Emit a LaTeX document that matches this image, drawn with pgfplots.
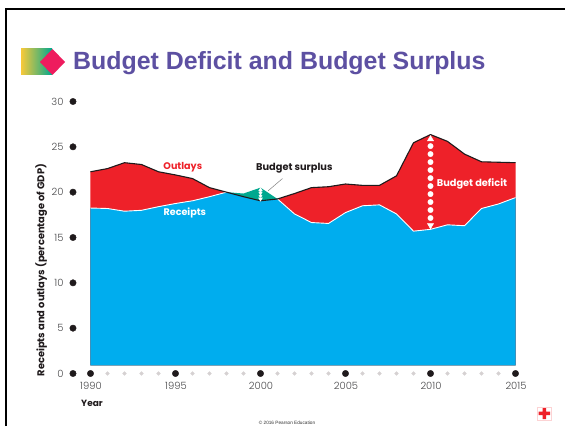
\documentclass[border=0pt]{standalone}
\usepackage{fontspec}
\usepackage{pgfplots}
\pgfplotsset{compat=1.18}
\setmainfont{Poppins}
\newfontfamily\titlefont{Liberation Sans}
\newfontfamily\lightfont{Poppins Light}
\definecolor{outlayred}{HTML}{EE2129}
\definecolor{receiptblue}{HTML}{00ADEE}
\definecolor{surplusteal}{HTML}{00A88F}
\definecolor{titlepurple}{HTML}{5D50A2}
\definecolor{dotblack}{HTML}{1F1A1C}
\definecolor{dotgrey}{HTML}{D6D1D2}
\definecolor{ticktext}{HTML}{4A4A4C}
\definecolor{logopink}{HTML}{EE1C5E}
\definecolor{logoyellow}{HTML}{F8C93A}

\begin{document}
\begin{tikzpicture}[x=1pt,y=1pt]
\useasboundingbox (0,0) rectangle (565,426);
\fill[white] (0,0) rectangle (565,426);
% slide frame
\draw[black,line width=2pt] (6,0) -- (6,417) -- (565,417);
% title block
\shade[left color=logoyellow,right color=surplusteal] (21,351) rectangle (52,377);
\fill[logopink] (40,364) -- (52.5,377) -- (65,364) -- (52.5,351) -- cycle;
\node[anchor=west,inner sep=0pt,text=titlepurple,font=\titlefont\bfseries\fontsize{24.9}{30}\selectfont] at (73,363) {Budget Deficit and Budget Surplus};
% footer
\node[inner sep=0pt,font=\titlefont\fontsize{4.7}{5}\selectfont,text=black!80] at (287,3) {© 2016 Pearson Education};
\draw[outlayred!20,line width=0.4pt] (537.5,5.5) rectangle (550.7,18.7);
\fill[outlayred] (542.5,18) -- (546,18) -- (546,14.5) -- (550,14.5) -- (550,11) -- (546,11) -- (546,7) -- (542.5,7) -- (542.5,11) -- (538.5,11) -- (538.5,14.5) -- (542.5,14.5) -- cycle;

\begin{axis}[
  at={(90.5pt,52.5pt)}, anchor=south west,
  scale only axis, width=425pt, height=272pt,
  xmin=1990, xmax=2015, ymin=0, ymax=30,
  clip=false,
  axis line style={draw=none},
  tick style={draw=none},
  xtick={1990,1995,2000,2005,2010,2015},
  ytick={0,5,10,15,20,25,30},
  /pgf/number format/assume math mode=true,
  /pgf/number format/1000 sep={},
  tick label style={font=\lightfont\fontsize{10}{11}\selectfont,text=ticktext},
  xticklabel style={yshift=-5.5pt,xshift=0.5pt},
  yticklabel style={xshift=-23.5pt},
  xlabel={Year},
  ylabel={Receipts and outlays (percentage of GDP)},
  xlabel style={font=\bfseries\fontsize{9}{10}\selectfont,text=dotblack,at={(axis description cs:0.0035,-0.108)},anchor=center},
  ylabel style={font=\bfseries\fontsize{9.9}{11}\selectfont,text=dotblack,at={(axis description cs:-0.116,0.38)},anchor=center},
]
% areas, back to front, standing on the same base: receipts, outlays, lower of the two
\addplot[draw=none,fill=surplusteal] coordinates {(1990,0.9)(1990,18.25)(1991,18.2)(1992,17.9)(1993,18.0)(1994,18.4)(1995,18.75)(1996,19.05)(1997,19.5)(1998,20.0)(1999,19.85)(2000,20.5)(2001,19.25)(2002,17.6)(2003,16.65)(2004,16.55)(2005,17.75)(2006,18.5)(2007,18.6)(2008,17.6)(2009,15.7)(2010,15.9)(2011,16.4)(2012,16.3)(2013,18.2)(2014,18.7)(2015,19.4)(2015,0.9)};
\addplot[draw=none,fill=outlayred] coordinates {(1990,0.9)(1990,22.25)(1991,22.6)(1992,23.25)(1993,23.05)(1994,22.25)(1995,21.9)(1996,21.5)(1997,20.5)(1998,20.0)(1999,19.5)(2000,19.05)(2001,19.25)(2002,19.85)(2003,20.5)(2004,20.6)(2005,20.9)(2006,20.75)(2007,20.75)(2008,21.8)(2009,25.45)(2010,26.35)(2011,25.6)(2012,24.2)(2013,23.35)(2014,23.3)(2015,23.25)(2015,0.9)};
\addplot[draw=none,fill=receiptblue] coordinates {(1990,0.9)(1990,18.25)(1991,18.2)(1992,17.9)(1993,18.0)(1994,18.4)(1995,18.75)(1996,19.05)(1997,19.5)(1998,20.0)(1999,19.5)(2000,19.05)(2001,19.25)(2002,17.6)(2003,16.65)(2004,16.55)(2005,17.75)(2006,18.5)(2007,18.6)(2008,17.6)(2009,15.7)(2010,15.9)(2011,16.4)(2012,16.3)(2013,18.2)(2014,18.7)(2015,19.4)(2015,0.9)};
% series edges
\addplot[white,line width=0.9pt,line join=round] coordinates {(1990,18.25)(1991,18.2)(1992,17.9)(1993,18.0)(1994,18.4)(1995,18.75)(1996,19.05)(1997,19.5)(1998,20.0)};
\addplot[white,line width=0.9pt,line join=round] coordinates {(2001,19.25)(2002,17.6)(2003,16.65)(2004,16.55)(2005,17.75)(2006,18.5)(2007,18.6)(2008,17.6)(2009,15.7)(2010,15.9)(2011,16.4)(2012,16.3)(2013,18.2)(2014,18.7)(2015,19.4)};
\addplot[dotblack,line width=1.1pt,line join=round] coordinates {(1990,22.25)(1991,22.6)(1992,23.25)(1993,23.05)(1994,22.25)(1995,21.9)(1996,21.5)(1997,20.5)(1998,20.0)(1999,19.5)(2000,19.05)(2001,19.25)(2002,19.85)(2003,20.5)(2004,20.6)(2005,20.9)(2006,20.75)(2007,20.75)(2008,21.8)(2009,25.45)(2010,26.35)(2011,25.6)(2012,24.2)(2013,23.35)(2014,23.3)(2015,23.25)};
% axis dots
\addplot[only marks,mark=*,mark size=1.9pt,color=dotgrey] coordinates {(1991,0)(1992,0)(1993,0)(1994,0)(1996,0)(1997,0)(1998,0)(1999,0)(2001,0)(2002,0)(2003,0)(2004,0)(2006,0)(2007,0)(2008,0)(2009,0)(2011,0)(2012,0)(2013,0)(2014,0)};
\addplot[only marks,mark=*,mark size=3.2pt,color=dotblack] coordinates {(1990,0)(1995,0)(2000,0)(2005,0)(2010,0)(2015,0)};
\addplot[only marks,mark=*,mark size=3.2pt,color=dotblack] coordinates {(1988.97,0)(1988.97,5)(1988.97,10)(1988.97,15)(1988.97,20)(1988.97,25)(1988.97,30)};
% deficit span in 2010
\addplot[only marks,mark=*,mark size=2.7pt,color=white] coordinates {(2010,25.08)(2010,24.2)(2010,23.32)(2010,22.44)(2010,21.55)(2010,20.67)(2010,19.79)(2010,18.91)(2010,18.03)(2010,17.15)};
\addplot[only marks,mark=triangle*,mark size=3.6pt,color=white] coordinates {(2010,25.85)};
\addplot[only marks,mark=triangle*,mark size=3.6pt,color=white,mark options={rotate=180}] coordinates {(2010,16.35)};
% surplus span in 2000
\addplot[only marks,mark=*,mark size=1.6pt,color=white] coordinates {(2000,19.95)(2000,19.6)};
\addplot[only marks,mark=triangle*,mark size=2.2pt,color=white] coordinates {(2000,20.25)};
\addplot[only marks,mark=triangle*,mark size=2.2pt,color=white,mark options={rotate=180}] coordinates {(2000,19.25)};
% annotations
\draw[gray,line width=0.5pt] (axis cs:2001.29,21.5) -- (axis cs:2000.45,20.15);
\node[font=\bfseries\fontsize{9.6}{11}\selectfont,text=outlayred,inner sep=0pt] at (axis cs:1995.43,22.77) {Outlays};
\node[font=\bfseries\fontsize{9.6}{11}\selectfont,text=white,inner sep=0pt] at (axis cs:1995.55,17.7) {Receipts};
\node[font=\bfseries\fontsize{9.8}{11}\selectfont,text=dotblack,inner sep=0pt] at (axis cs:2001.99,22.65) {Budget surplus};
\node[font=\bfseries\fontsize{9.8}{11}\selectfont,text=white,inner sep=0pt] at (axis cs:2012.44,20.95) {Budget deficit};
\end{axis}
\end{tikzpicture}
\end{document}
